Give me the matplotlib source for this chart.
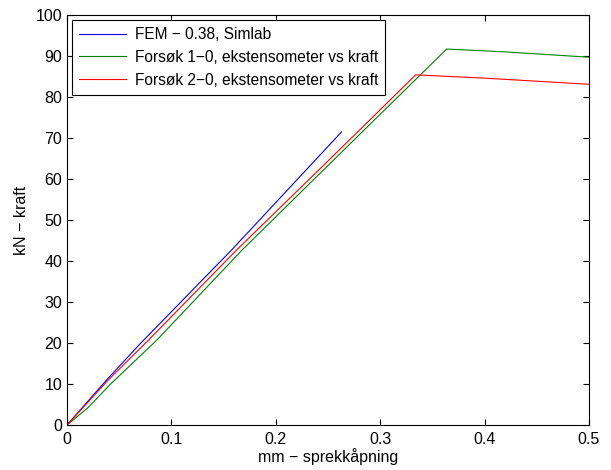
# Force vs crack opening: FEM vs two test series
import matplotlib
matplotlib.use('Agg')
import matplotlib.pyplot as plt

# FEM - 0.38, Simlab
fem_x = [0, 0.038, 0.07, 0.1577, 0.263]
fem_y = [0, 11.0, 19.8, 42.7, 71.5]

# Forsøk 1-0
f1_x = [0, 0.02, 0.041, 0.086, 0.167, 0.25, 0.3637, 0.42, 0.5]
f1_y = [0, 4.2, 9.8, 20.7, 42.5, 63.3, 91.7, 91.0, 89.7]

# Forsøk 2-0
f2_x = [0, 0.0396, 0.078, 0.1625, 0.25, 0.334, 0.4, 0.5]
f2_y = [0, 11.0, 20.7, 42.7, 64.4, 85.4, 84.6, 83.1]

labels = ['FEM \u2212 0.38, Simlab',
          'Fors\u00f8k 1\u22120, ekstensometer vs kraft',
          'Fors\u00f8k 2\u22120, ekstensometer vs kraft']

plt.rcParams['font.family'] = ['Liberation Sans', 'DejaVu Sans']
plt.rcParams['font.size'] = 11.5

fig = plt.figure(figsize=(6.11, 4.70), dpi=100)
ax = fig.add_axes([67/611, 45/470, 522/611, 410/470])

ax.plot(fem_x, fem_y, color='blue', lw=0.8, label=labels[0])
ax.plot(f1_x, f1_y, color=(0, 0.5, 0), lw=0.8, label=labels[1])
ax.plot(f2_x, f2_y, color='red', lw=0.8, label=labels[2])

ax.set_xlim(0, 0.5)
ax.set_ylim(0, 100)
ax.set_xticks([0, 0.1, 0.2, 0.3, 0.4, 0.5])
ax.set_xticklabels(['0', '0.1', '0.2', '0.3', '0.4', '0.5'])
ax.set_yticks(range(0, 101, 10))
ax.tick_params(direction='in', top=True, right=True, length=4, width=0.8, labelsize=11.5)
ax.tick_params(axis='x', pad=5)
for s in ax.spines.values():
    s.set_linewidth(0.8)

ax.set_xlabel('mm \u2212 sprekk\u00e5pning', fontsize=11.5, labelpad=1)
ax.set_ylabel('kN \u2212 kraft', fontsize=11.5, labelpad=5)

leg = ax.legend(loc='upper left', bbox_to_anchor=(5/522, 1 - 5/410), borderaxespad=0,
                fancybox=False, framealpha=1, edgecolor='black', fontsize=11.2,
                handlelength=3.0, handletextpad=0.6, labelspacing=0.5, borderpad=0.45)
leg.get_frame().set_linewidth(0.8)

fig.savefig('out.png', dpi=100)
